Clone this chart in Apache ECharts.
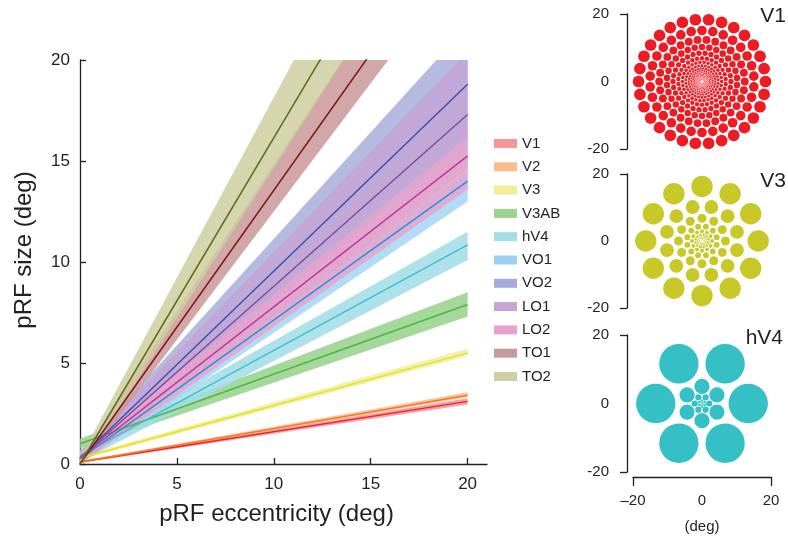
<!DOCTYPE html>
<html>
<head>
<meta charset="utf-8">
<script src="https://cdn.jsdelivr.net/npm/echarts@6/dist/echarts.min.js"></script>
<style>
  html, body { margin: 0; background: #fff; }
  #chart { width: 788px; height: 538px; }
</style>
</head>
<body>
<div id="chart"></div>
<script>
// ---- data ----
var areas = ['V1', 'V2', 'V3', 'V3AB', 'hV4', 'VO1', 'VO2', 'LO1', 'LO2', 'TO1', 'TO2'];

// the fits are straight lines, read at eccentricity 0 and 20 deg
var ecc = [0, 20];
var sizeAt0    = [0.10, 0.10, 0.30, 1.00, 0.40, 0.25, 0.30, 0.30, 0.30, 0.00, 0.00];
var sizeAt20   = [3.10, 3.40, 5.50, 7.90, 10.85, 14.0, 18.8, 17.3, 15.25, 27.1, 32.3];
var lowerAt0   = [0.05, 0.05, 0.20, 0.75, 0.10, 0.00, 0.00, 0.00, 0.00, -0.2, -0.2];
var lowerAt20  = [2.95, 3.30, 5.35, 7.30, 10.1, 13.0, 16.0, 14.6, 13.6, 25.2, 29.5];
var upperAt0   = [0.15, 0.15, 0.40, 1.25, 0.70, 0.50, 0.60, 0.60, 0.60, 0.30, 0.30];
var upperAt20  = [3.25, 3.55, 5.70, 8.50, 11.5, 14.5, 21.7, 20.4, 16.2, 29.4, 36.0];

var xTicks = [0, 5, 10, 15, 20];

// pRF coverage panels: rings of circles (deg)
var v1RingEcc    = [18.4, 15.1, 12.4, 10.2, 8.4, 6.9, 5.7, 4.7, 3.85, 3.15, 2.6, 2.15, 1.75, 1.45, 1.2, 0.98, 0.8, 0.66, 0.54, 0.44];
var v1RingRadius = [1.7, 1.4, 1.15, 0.95, 0.78, 0.64, 0.53, 0.44, 0.36, 0.29, 0.24, 0.2, 0.16, 0.13, 0.11, 0.09, 0.075, 0.06, 0.05, 0.04];
var v1RingCount  = 30;
var v1RingShift  = [0, 6];

var v3RingEcc    = [16.3, 10.5, 6.8, 4.4, 2.9, 1.9, 1.25, 0.82, 0.54];
var v3RingRadius = [3.1, 2.0, 1.3, 0.85, 0.56, 0.37, 0.24, 0.16, 0.1];
var v3RingCount  = 12;
var v3RingShift  = [0, 15];

var hv4RingEcc    = [13.4, 5.0, 2.1, 0.85, 0.35];
var hv4RingRadius = [5.7, 2.2, 0.9, 0.36, 0.15];
var hv4RingCount  = 6;
var hv4RingShift  = [0, 30];

// ---- styles ----
var FONT = '"Liberation Sans", Arial, Helvetica, sans-serif';
var INK = '#231f20';
var lineColors = ['#e8232a', '#f47a20', '#e6e21c', '#4cb648', '#3fc0cc', '#2e8ed8',
                  '#3a52ab', '#7b4b9f', '#c0399a', '#7d1515', '#5d6b1c'];
var bandColors = ['rgba(240,140,145,0.8)', 'rgba(248,185,140,0.8)', 'rgba(240,236,150,0.8)',
                  'rgba(150,208,138,0.85)', 'rgba(160,220,230,0.85)', 'rgba(165,213,243,0.85)',
                  'rgba(168,174,220,0.85)', 'rgba(196,165,212,0.85)', 'rgba(228,164,205,0.85)',
                  'rgba(202,152,152,0.85)', 'rgba(206,206,160,0.85)'];
var legendColors = ['#f3979a', '#f9bd8e', '#f0ee9a', '#9dd38f', '#a3dde6', '#9fd0f2',
                    '#a6acd9', '#c4a5d4', '#e5a4cd', '#c99a9a', '#cfcea3'];

var chart = echarts.init(document.getElementById('chart'));

function bandSeries(i) {
  return {
    name: areas[i], type: 'custom', xAxisIndex: 0, yAxisIndex: 0,
    clip: true, silent: true, z: 2,
    data: [[ecc[0], lowerAt0[i], upperAt0[i]], [ecc[1], lowerAt20[i], upperAt20[i]]],
    renderItem: function (params, api) {
      if (params.dataIndex !== 0) return;
      var pts = [
        api.coord([ecc[0], lowerAt0[i]]), api.coord([ecc[1], lowerAt20[i]]),
        api.coord([ecc[1], upperAt20[i]]), api.coord([ecc[0], upperAt0[i]])
      ];
      return { type: 'polygon', shape: { points: pts }, style: { fill: bandColors[i] } };
    }
  };
}

function fitSeries(i) {
  return {
    name: areas[i], type: 'line', xAxisIndex: 0, yAxisIndex: 0,
    data: [[ecc[0], sizeAt0[i]], [ecc[1], sizeAt20[i]]],
    showSymbol: false, silent: true, z: 3,
    lineStyle: { color: lineColors[i], width: 1.5 },
    itemStyle: { color: lineColors[i] }
  };
}

function ringCircles(eccs, radii, count, shifts) {
  var out = [];
  eccs.forEach(function (e, k) {
    var off = shifts[k % shifts.length];
    for (var j = 0; j < count; j++) {
      var a = (off + 360 * j / count) * Math.PI / 180;
      out.push([e * Math.cos(a), e * Math.sin(a), radii[k]]);
    }
  });
  return out;
}

function coverageSeries(idx, data, color) {
  return {
    type: 'custom', xAxisIndex: idx, yAxisIndex: idx, silent: true,
    data: data,
    renderItem: function (params, api) {
      var c = api.coord([api.value(0), api.value(1)]);
      var r = api.size([api.value(2), 0])[0];
      return { type: 'circle', shape: { cx: c[0], cy: c[1], r: r }, style: { fill: color } };
    }
  };
}

function panelY(idx) {
  return {
    type: 'value', gridIndex: idx, min: -20, max: 20, offset: 6,
    axisLine: { show: true, onZero: false, lineStyle: { color: INK, width: 1.3 } },
    axisTick: { show: true, length: 7, customValues: [-20, 20], lineStyle: { color: INK, width: 1.3 } },
    axisLabel: { customValues: [-20, 0, 20], fontSize: 15, color: INK, fontFamily: FONT, margin: 18 },
    splitLine: { show: false }
  };
}

var series = [];
areas.forEach(function (a, i) { series.push(bandSeries(i)); });
areas.forEach(function (a, i) { series.push(fitSeries(i)); });
series.push(coverageSeries(1, ringCircles(v1RingEcc, v1RingRadius, v1RingCount, v1RingShift), '#ed1c24'));
series.push(coverageSeries(2, ringCircles(v3RingEcc, v3RingRadius, v3RingCount, v3RingShift), '#c8c828'));
series.push(coverageSeries(3, ringCircles(hv4RingEcc, hv4RingRadius, hv4RingCount, hv4RingShift), '#34c0c4'));

var option = {
  animation: false,
  backgroundColor: '#fff',
  textStyle: { fontFamily: FONT },
  title: [
    { text: 'V1', right: 2, top: 6, padding: 0, textStyle: { fontSize: 21, fontWeight: 'normal', color: INK, fontFamily: FONT } },
    { text: 'V3', right: 2, top: 171, padding: 0, textStyle: { fontSize: 21, fontWeight: 'normal', color: INK, fontFamily: FONT } },
    { text: 'hV4', right: 5, top: 328, padding: 0, textStyle: { fontSize: 21, fontWeight: 'normal', color: INK, fontFamily: FONT } }
  ],
  legend: {
    orient: 'vertical', left: 494, top: 136, padding: 0,
    itemWidth: 23, itemHeight: 9, itemGap: 8.3,
    textStyle: { fontSize: 15, color: INK, fontFamily: FONT },
    data: areas.map(function (a, i) {
      return { name: a, icon: 'rect', itemStyle: { color: legendColors[i] } };
    })
  },
  grid: [
    { left: 80, top: 60, width: 407, height: 404 },
    { left: 633, top: 14, width: 138, height: 135 },
    { left: 633, top: 174, width: 138, height: 134 },
    { left: 633, top: 335, width: 138, height: 137 }
  ],
  xAxis: [
    {
      type: 'value', gridIndex: 0, min: 0, max: 21,
      name: 'pRF eccentricity (deg)', nameLocation: 'middle', nameGap: 38,
      nameTextStyle: { fontSize: 24, color: INK, fontFamily: FONT, padding: [0, 14, 0, 0] },
      axisLine: { lineStyle: { color: INK, width: 1.3 } },
      axisTick: { inside: true, length: 6, customValues: xTicks, lineStyle: { color: INK, width: 1.3 } },
      axisLabel: { customValues: xTicks, fontSize: 17, color: INK, fontFamily: FONT, margin: 12 },
      splitLine: { show: false }
    },
    { type: 'value', gridIndex: 1, min: -20, max: 20, show: false },
    { type: 'value', gridIndex: 2, min: -20, max: 20, show: false },
    {
      type: 'value', gridIndex: 3, min: -20, max: 20, offset: 5,
      name: '(deg)', nameLocation: 'middle', nameGap: 42,
      nameTextStyle: { fontSize: 15, color: INK, fontFamily: FONT },
      axisLine: { onZero: false, lineStyle: { color: INK, width: 1.3 } },
      axisTick: { length: 9, customValues: [-20, 20], lineStyle: { color: INK, width: 1.3 } },
      axisLabel: {
        customValues: [-20, 0, 20], fontSize: 15, color: INK, fontFamily: FONT, margin: 16,
        formatter: function (v) { return v < 0 ? '\u2013' + (-v) : String(v); }
      },
      splitLine: { show: false }
    }
  ],
  yAxis: [
    {
      type: 'value', gridIndex: 0, min: 0, max: 20, interval: 5,
      name: 'pRF size (deg)', nameLocation: 'middle', nameGap: 44,
      nameTextStyle: { fontSize: 24, color: INK, fontFamily: FONT, padding: [0, 0, 0, 24] },
      axisLine: { show: true, lineStyle: { color: INK, width: 1.3 } },
      axisTick: { show: true, inside: true, length: 6, lineStyle: { color: INK, width: 1.3 } },
      axisLabel: { fontSize: 17, color: INK, fontFamily: FONT, margin: 10 },
      splitLine: { show: false }
    },
    panelY(1), panelY(2), panelY(3)
  ],
  series: series
};

chart.setOption(option);
</script>
</body>
</html>
